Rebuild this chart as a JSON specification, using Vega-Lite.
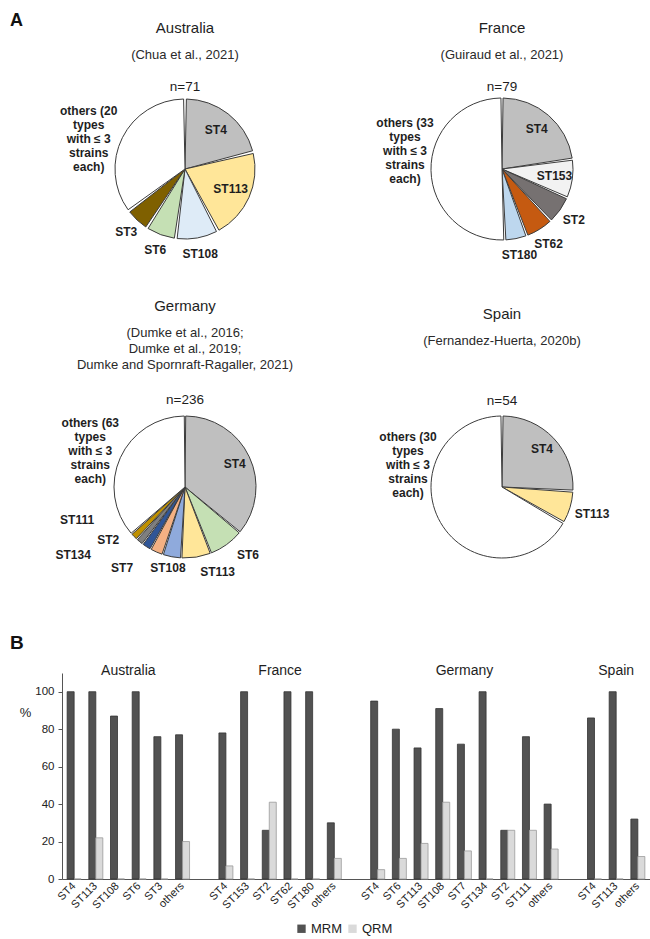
{
  "$schema": "https://vega.github.io/schema/vega-lite/v6.json",
  "background": "white",
  "padding": {"left": 10, "top": 12, "right": 0, "bottom": 0},
  "config": {
    "view": {"stroke": null},
    "font": "Liberation Sans",
    "title": {"font": "Liberation Sans", "color": "#1e1e1e", "subtitleFont": "Liberation Sans", "subtitleColor": "#2a2a2a"},
    "axis": {"labelFont": "Liberation Sans", "titleFont": "Liberation Sans", "labelColor": "#222", "titleColor": "#222"},
    "legend": {"labelFont": "Liberation Sans"},
    "text": {"font": "Liberation Sans", "color": "#1e1e1e", "fontWeight": "bold", "fontSize": 12, "lineHeight": 14}
  },
  "spacing": 56,
  "resolve": {"scale": {"color": "independent", "theta": "independent", "stroke": "independent"}, "legend": {"color": "independent"}},
  "vconcat": [
    {
      "title": {"text": "A", "anchor": "start", "frame": "group", "fontSize": 18, "fontWeight": "bold", "dx": -52, "dy": 9, "offset": 0, "color": "#111"},
      "columns": 2,
      "spacing": {"row": 37, "column": 68},
      "resolve": {"scale": {"color": "independent", "theta": "independent"}, "legend": {"color": "independent"}},
      "concat": [
        {
          "width": 246, "height": 150,
          "title": {"text": "Australia", "subtitle": "(Chua et al., 2021)", "fontSize": 15, "fontWeight": "normal", "subtitleFontSize": 13, "subtitleLineHeight": 16, "subtitlePadding": 13, "offset": 18, "anchor": "middle"},
          "data": {"values": [
            {"st": "ST4", "n": 15, "ord": 1, "label": "ST4"},
            {"st": "ST113", "n": 15, "ord": 2, "label": "ST113"},
            {"st": "ST108", "n": 7, "ord": 3, "label": "ST108"},
            {"st": "ST6", "n": 5, "ord": 4, "label": "ST6"},
            {"st": "ST3", "n": 4, "ord": 5, "label": "ST3"},
            {"st": "others", "n": 25, "ord": 6, "label": ["others (20", "types", "with ≤ 3", "strains", "each)"]}
          ]},
          "transform": [{"stack": "n", "groupby": [], "sort": [{"field": "ord", "order": "ascending"}], "as": ["s0", "s1"]}, {"calculate": "(datum.s0 + datum.s1) / 2", "as": "mid"}],
          "layer": [
            {"mark": {"type": "arc", "outerRadius": 70, "padAngle": 0.04, "stroke": "#3c3c3c", "strokeWidth": 1},
             "encoding": {"theta": {"field": "s0", "type": "quantitative", "scale": {"domain": [0, 71]}}, "theta2": {"field": "s1"},
                          "color": {"field": "st", "type": "nominal", "legend": null, "scale": {"domain": ["ST4", "ST113", "ST108", "ST6", "ST3", "others"], "range": ["#bfbfbf", "#ffe699", "#deebf7", "#c5e0b4", "#7f6000", "#ffffff"]}}}},
            {"transform": [{"filter": "datum.st=='ST4'||datum.st=='ST113'"}], "mark": {"type": "text", "radius": 50},
             "encoding": {"theta": {"field": "mid", "type": "quantitative", "scale": {"domain": [0, 71]}}, "text": {"field": "label"}}},
            {"transform": [{"filter": "datum.st=='ST108'||datum.st=='ST6'||datum.st=='ST3'"}], "mark": {"type": "text", "radius": 86},
             "encoding": {"theta": {"field": "mid", "type": "quantitative", "scale": {"domain": [0, 71]}}, "text": {"field": "label"}}},
            {"transform": [{"filter": "datum.st=='others'"}], "mark": {"type": "text", "radius": 101, "dx": -6, "dy": -13},
             "encoding": {"theta": {"field": "mid", "type": "quantitative", "scale": {"domain": [0, 71]}}, "text": {"field": "label"}}},
            {"data": {"values": [{"total": "n=71"}]}, "mark": {"type": "text", "radius": 82, "fontWeight": "normal", "fontSize": 13.5},
             "encoding": {"theta": {"datum": 0, "type": "quantitative", "scale": {"domain": [0, 71]}}, "text": {"field": "total"}}}
          ]
        },
        {
          "width": 246, "height": 150,
          "title": {"text": "France", "subtitle": "(Guiraud et al., 2021)", "fontSize": 15, "fontWeight": "normal", "subtitleFontSize": 13, "subtitleLineHeight": 16, "subtitlePadding": 13, "offset": 18, "anchor": "middle"},
          "data": {"values": [
            {"st": "ST4", "n": 18, "ord": 1, "label": "ST4"},
            {"st": "ST153", "n": 7, "ord": 2, "label": "ST153"},
            {"st": "ST2", "n": 5, "ord": 3, "label": "ST2"},
            {"st": "ST62", "n": 5, "ord": 4, "label": "ST62"},
            {"st": "ST180", "n": 4, "ord": 5, "label": "ST180"},
            {"st": "others", "n": 40, "ord": 6, "label": ["others (33", "types", "with ≤ 3", "strains", "each)"]}
          ]},
          "transform": [{"stack": "n", "groupby": [], "sort": [{"field": "ord", "order": "ascending"}], "as": ["s0", "s1"]}, {"calculate": "(datum.s0 + datum.s1) / 2", "as": "mid"}],
          "layer": [
            {"mark": {"type": "arc", "outerRadius": 71, "padAngle": 0.03, "stroke": "#3c3c3c", "strokeWidth": 1},
             "encoding": {"theta": {"field": "s0", "type": "quantitative", "scale": {"domain": [0, 79]}}, "theta2": {"field": "s1"},
                          "color": {"field": "st", "type": "nominal", "legend": null, "scale": {"domain": ["ST4", "ST153", "ST2", "ST62", "ST180", "others"], "range": ["#bfbfbf", "#f2f2f2", "#767171", "#c55a11", "#bdd7ee", "#ffffff"]}}}},
            {"transform": [{"filter": "datum.st=='ST4'||datum.st=='ST153'"}], "mark": {"type": "text", "radius": 53},
             "encoding": {"theta": {"field": "mid", "type": "quantitative", "scale": {"domain": [0, 79]}}, "text": {"field": "label"}}},
            {"transform": [{"filter": "datum.st=='ST2'||datum.st=='ST62'||datum.st=='ST180'"}], "mark": {"type": "text", "radius": 88},
             "encoding": {"theta": {"field": "mid", "type": "quantitative", "scale": {"domain": [0, 79]}}, "text": {"field": "label"}}},
            {"transform": [{"filter": "datum.st=='others'"}], "mark": {"type": "text", "radius": 97, "dy": -48},
             "encoding": {"theta": {"field": "mid", "type": "quantitative", "scale": {"domain": [0, 79]}}, "text": {"field": "label"}}},
            {"data": {"values": [{"total": "n=79"}]}, "mark": {"type": "text", "radius": 82, "fontWeight": "normal", "fontSize": 13.5},
             "encoding": {"theta": {"datum": 0, "type": "quantitative", "scale": {"domain": [0, 79]}}, "text": {"field": "total"}}}
          ]
        },
        {
          "width": 246, "height": 150,
          "title": {"text": "Germany", "subtitle": ["(Dumke et al., 2016;", "Dumke et al., 2019;", "Dumke and Spornraft-Ragaller, 2021)"], "fontSize": 15, "fontWeight": "normal", "subtitleFontSize": 13, "subtitleLineHeight": 16, "subtitlePadding": 13, "offset": 21, "anchor": "middle"},
          "data": {"values": [
            {"st": "ST4", "n": 85, "ord": 1, "label": "ST4"},
            {"st": "ST6", "n": 19, "ord": 2, "label": "ST6"},
            {"st": "ST113", "n": 16, "ord": 3, "label": "ST113"},
            {"st": "ST108", "n": 10, "ord": 4, "label": "ST108"},
            {"st": "ST7", "n": 7, "ord": 5, "label": "ST7"},
            {"st": "ST134", "n": 5, "ord": 6, "label": "ST134"},
            {"st": "ST2", "n": 4, "ord": 7, "label": "ST2"},
            {"st": "ST111", "n": 4, "ord": 8, "label": "ST111"},
            {"st": "others", "n": 86, "ord": 9, "label": ["others (63", "types", "with ≤ 3", "strains", "each)"]}
          ]},
          "transform": [{"stack": "n", "groupby": [], "sort": [{"field": "ord", "order": "ascending"}], "as": ["s0", "s1"]}, {"calculate": "(datum.s0 + datum.s1) / 2", "as": "mid"}],
          "layer": [
            {"mark": {"type": "arc", "outerRadius": 71, "padAngle": 0.02, "stroke": "#3c3c3c", "strokeWidth": 1},
             "encoding": {"theta": {"field": "s0", "type": "quantitative", "scale": {"domain": [0, 236]}}, "theta2": {"field": "s1"},
                          "color": {"field": "st", "type": "nominal", "legend": null, "scale": {"domain": ["ST4", "ST6", "ST113", "ST108", "ST7", "ST134", "ST2", "ST111", "others"], "range": ["#bfbfbf", "#c5e0b4", "#ffe699", "#8faadc", "#f4b183", "#2f5597", "#7f7f7f", "#bf9000", "#ffffff"]}}}},
            {"transform": [{"filter": "datum.st=='ST4'"}], "mark": {"type": "text", "radius": 55},
             "encoding": {"theta": {"field": "mid", "type": "quantitative", "scale": {"domain": [0, 236]}}, "text": {"field": "label"}}},
            {"transform": [{"filter": "datum.st=='ST6'"}], "mark": {"type": "text", "radius": 92, "dx": 9, "dy": -7},
             "encoding": {"theta": {"field": "mid", "type": "quantitative", "scale": {"domain": [0, 236]}}, "text": {"field": "label"}}},
            {"transform": [{"filter": "datum.st=='ST113'"}], "mark": {"type": "text", "radius": 92, "dx": 18, "dy": -6},
             "encoding": {"theta": {"field": "mid", "type": "quantitative", "scale": {"domain": [0, 236]}}, "text": {"field": "label"}}},
            {"transform": [{"filter": "datum.st=='ST108'"}], "mark": {"type": "text", "radius": 92, "dx": 0, "dy": -9},
             "encoding": {"theta": {"field": "mid", "type": "quantitative", "scale": {"domain": [0, 236]}}, "text": {"field": "label"}}},
            {"transform": [{"filter": "datum.st=='ST7'"}], "mark": {"type": "text", "radius": 92, "dx": -26, "dy": -3},
             "encoding": {"theta": {"field": "mid", "type": "quantitative", "scale": {"domain": [0, 236]}}, "text": {"field": "label"}}},
            {"transform": [{"filter": "datum.st=='ST134'"}], "mark": {"type": "text", "radius": 92, "dx": -62, "dy": -9},
             "encoding": {"theta": {"field": "mid", "type": "quantitative", "scale": {"domain": [0, 236]}}, "text": {"field": "label"}}},
            {"transform": [{"filter": "datum.st=='ST2'"}], "mark": {"type": "text", "radius": 92, "dx": -18, "dy": -18},
             "encoding": {"theta": {"field": "mid", "type": "quantitative", "scale": {"domain": [0, 236]}}, "text": {"field": "label"}}},
            {"transform": [{"filter": "datum.st=='ST111'"}], "mark": {"type": "text", "radius": 92, "dx": -42, "dy": -31},
             "encoding": {"theta": {"field": "mid", "type": "quantitative", "scale": {"domain": [0, 236]}}, "text": {"field": "label"}}},
            {"transform": [{"filter": "datum.st=='others'"}], "mark": {"type": "text", "radius": 104, "dy": -21},
             "encoding": {"theta": {"field": "mid", "type": "quantitative", "scale": {"domain": [0, 236]}}, "text": {"field": "label"}}},
            {"data": {"values": [{"total": "n=236"}]}, "mark": {"type": "text", "radius": 87, "fontWeight": "normal", "fontSize": 13.5},
             "encoding": {"theta": {"datum": 0, "type": "quantitative", "scale": {"domain": [0, 236]}}, "text": {"field": "total"}}}
          ]
        },
        {
          "width": 246, "height": 150,
          "title": {"text": "Spain", "subtitle": "(Fernandez-Huerta,  2020b)", "fontSize": 15, "fontWeight": "normal", "subtitleFontSize": 13, "subtitleLineHeight": 16, "subtitlePadding": 13, "offset": 46, "anchor": "middle"},
          "data": {"values": [
            {"st": "ST4", "n": 14, "ord": 1, "label": "ST4"},
            {"st": "ST113", "n": 4, "ord": 2, "label": "ST113"},
            {"st": "others", "n": 36, "ord": 3, "label": ["others (30", "types", "with ≤ 3", "strains", "each)"]}
          ]},
          "transform": [{"stack": "n", "groupby": [], "sort": [{"field": "ord", "order": "ascending"}], "as": ["s0", "s1"]}, {"calculate": "(datum.s0 + datum.s1) / 2", "as": "mid"}],
          "layer": [
            {"mark": {"type": "arc", "outerRadius": 71, "padAngle": 0.03, "stroke": "#3c3c3c", "strokeWidth": 1},
             "encoding": {"theta": {"field": "s0", "type": "quantitative", "scale": {"domain": [0, 54]}}, "theta2": {"field": "s1"},
                          "color": {"field": "st", "type": "nominal", "legend": null, "scale": {"domain": ["ST4", "ST113", "others"], "range": ["#bfbfbf", "#ffe699", "#ffffff"]}}}},
            {"transform": [{"filter": "datum.st=='ST4'"}], "mark": {"type": "text", "radius": 55},
             "encoding": {"theta": {"field": "mid", "type": "quantitative", "scale": {"domain": [0, 54]}}, "text": {"field": "label"}}},
            {"transform": [{"filter": "datum.st=='ST113'"}], "mark": {"type": "text", "radius": 94},
             "encoding": {"theta": {"field": "mid", "type": "quantitative", "scale": {"domain": [0, 54]}}, "text": {"field": "label"}}},
            {"transform": [{"filter": "datum.st=='others'"}], "mark": {"type": "text", "radius": 97, "dx": -10, "dy": -99},
             "encoding": {"theta": {"field": "mid", "type": "quantitative", "scale": {"domain": [0, 54]}}, "text": {"field": "label"}}},
            {"data": {"values": [{"total": "n=54"}]}, "mark": {"type": "text", "radius": 86, "fontWeight": "normal", "fontSize": 13.5},
             "encoding": {"theta": {"datum": 0, "type": "quantitative", "scale": {"domain": [0, 54]}}, "text": {"field": "total"}}}
          ]
        }
      ]
    },
    {
      "width": 588, "height": 206,
      "title": {"text": "B", "anchor": "start", "frame": "group", "fontSize": 19, "fontWeight": "bold", "dx": -52, "offset": 11, "color": "#111"},
      "layer": [
        {
          "data": {"values": [
            {"key": "AU|ST4", "type": "MRM", "pct": 100}, {"key": "AU|ST4", "type": "QRM", "pct": 0},
            {"key": "AU|ST113", "type": "MRM", "pct": 100}, {"key": "AU|ST113", "type": "QRM", "pct": 22},
            {"key": "AU|ST108", "type": "MRM", "pct": 87}, {"key": "AU|ST108", "type": "QRM", "pct": 0},
            {"key": "AU|ST6", "type": "MRM", "pct": 100}, {"key": "AU|ST6", "type": "QRM", "pct": 0},
            {"key": "AU|ST3", "type": "MRM", "pct": 76}, {"key": "AU|ST3", "type": "QRM", "pct": 0},
            {"key": "AU|others", "type": "MRM", "pct": 77}, {"key": "AU|others", "type": "QRM", "pct": 20},
            {"key": "FR|ST4", "type": "MRM", "pct": 78}, {"key": "FR|ST4", "type": "QRM", "pct": 7},
            {"key": "FR|ST153", "type": "MRM", "pct": 100}, {"key": "FR|ST153", "type": "QRM", "pct": 0},
            {"key": "FR|ST2", "type": "MRM", "pct": 26}, {"key": "FR|ST2", "type": "QRM", "pct": 41},
            {"key": "FR|ST62", "type": "MRM", "pct": 100}, {"key": "FR|ST62", "type": "QRM", "pct": 0},
            {"key": "FR|ST180", "type": "MRM", "pct": 100}, {"key": "FR|ST180", "type": "QRM", "pct": 0},
            {"key": "FR|others", "type": "MRM", "pct": 30}, {"key": "FR|others", "type": "QRM", "pct": 11},
            {"key": "DE|ST4", "type": "MRM", "pct": 95}, {"key": "DE|ST4", "type": "QRM", "pct": 5},
            {"key": "DE|ST6", "type": "MRM", "pct": 80}, {"key": "DE|ST6", "type": "QRM", "pct": 11},
            {"key": "DE|ST113", "type": "MRM", "pct": 70}, {"key": "DE|ST113", "type": "QRM", "pct": 19},
            {"key": "DE|ST108", "type": "MRM", "pct": 91}, {"key": "DE|ST108", "type": "QRM", "pct": 41},
            {"key": "DE|ST7", "type": "MRM", "pct": 72}, {"key": "DE|ST7", "type": "QRM", "pct": 15},
            {"key": "DE|ST134", "type": "MRM", "pct": 100}, {"key": "DE|ST134", "type": "QRM", "pct": 0},
            {"key": "DE|ST2", "type": "MRM", "pct": 26}, {"key": "DE|ST2", "type": "QRM", "pct": 26},
            {"key": "DE|ST111", "type": "MRM", "pct": 76}, {"key": "DE|ST111", "type": "QRM", "pct": 26},
            {"key": "DE|others", "type": "MRM", "pct": 40}, {"key": "DE|others", "type": "QRM", "pct": 16},
            {"key": "ES|ST4", "type": "MRM", "pct": 86}, {"key": "ES|ST4", "type": "QRM", "pct": 0},
            {"key": "ES|ST113", "type": "MRM", "pct": 100}, {"key": "ES|ST113", "type": "QRM", "pct": 0},
            {"key": "ES|others", "type": "MRM", "pct": 32}, {"key": "ES|others", "type": "QRM", "pct": 12}
          ]},
          "mark": {"type": "bar", "strokeWidth": 0.8},
          "encoding": {
            "x": {"field": "key", "type": "nominal", "sort": null,
                  "scale": {"domain": ["AU|ST4", "AU|ST113", "AU|ST108", "AU|ST6", "AU|ST3", "AU|others", "g1", "FR|ST4", "FR|ST153", "FR|ST2", "FR|ST62", "FR|ST180", "FR|others", "g2", "DE|ST4", "DE|ST6", "DE|ST113", "DE|ST108", "DE|ST7", "DE|ST134", "DE|ST2", "DE|ST111", "DE|others", "g3", "ES|ST4", "ES|ST113", "ES|others"], "paddingInner": 0, "paddingOuter": 0.06},
                  "axis": {"title": null, "labelAngle": -45, "labelAlign": "right", "labelBaseline": "middle", "labelPadding": 5, "ticks": false, "labelFontSize": 11, "domainColor": "#555", "labelExpr": "indexof(datum.value, '|') > 0 ? split(datum.value, '|')[1] : ''"}},
            "xOffset": {"field": "type", "type": "nominal", "scale": {"domain": ["MRM", "QRM"], "paddingInner": 0, "paddingOuter": 0.55}},
            "y": {"field": "pct", "type": "quantitative", "scale": {"domain": [0, 110]},
                  "axis": {"title": "%", "titleAngle": 0, "titleX": -37, "titleY": 39, "titleAlign": "center", "titleBaseline": "middle", "titleFontSize": 13, "titleFontWeight": "normal", "values": [0, 20, 40, 60, 80, 100], "grid": false, "tickSize": 4, "labelPadding": 4, "labelFontSize": 11.5, "domainColor": "#555", "tickColor": "#555"}},
            "color": {"field": "type", "type": "nominal", "scale": {"domain": ["MRM", "QRM"], "range": ["#525252", "#dadada"]},
                      "legend": {"title": null, "orient": "none", "direction": "horizontal", "legendX": 233, "legendY": 249, "symbolType": "square", "symbolSize": 70, "symbolStrokeWidth": 0, "labelFontSize": 13, "labelOffset": 3, "columnPadding": 3, "labelColor": "#222"}},
            "stroke": {"field": "type", "type": "nominal", "scale": {"domain": ["MRM", "QRM"], "range": ["#333333", "#9a9a9a"]}, "legend": null}
          }
        },
        {
          "data": {"values": [{"key": "AU|ST108", "country": "Australia"}, {"key": "FR|ST2", "country": "France"}]},
          "mark": {"type": "text", "fontSize": 14, "fontWeight": "normal", "baseline": "middle"},
          "encoding": {"x": {"field": "key", "type": "nominal", "bandPosition": 1}, "y": {"datum": 111}, "text": {"field": "country"}}
        },
        {
          "data": {"values": [{"key": "DE|ST7", "country": "Germany"}, {"key": "ES|ST113", "country": "Spain"}]},
          "mark": {"type": "text", "fontSize": 14, "fontWeight": "normal", "baseline": "middle"},
          "encoding": {"x": {"field": "key", "type": "nominal", "bandPosition": 0.5}, "y": {"datum": 111}, "text": {"field": "country"}}
        }
      ]
    }
  ]
}
